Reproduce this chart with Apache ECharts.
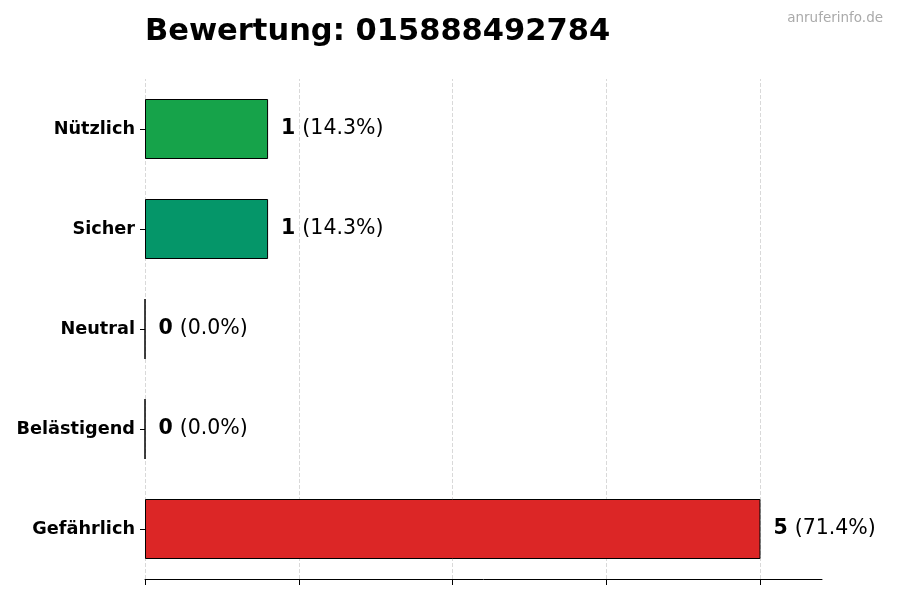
<!DOCTYPE html>
<html><head><meta charset="utf-8">
<script src="https://cdn.jsdelivr.net/npm/echarts@6/dist/echarts.min.js"></script>
<style>html,body{margin:0;padding:0;background:#fff}#c{width:900px;height:600px}</style>
</head><body><div id="c"></div>
<script>
const categories = ['Gefährlich', 'Belästigend', 'Neutral', 'Sicher', 'Nützlich'];
const values = [5, 0, 0, 1, 1];
const colors = ['#dc2626', '#6b7280', '#9ca3af', '#059669', '#16a34a'];
const xTicks = [0, 1.25, 2.5, 3.75, 5];
const titleText = 'Bewertung: 015888492784';
const watermark = 'anruferinfo.de';
const total = values.reduce((a, b) => a + b, 0);

const chart = echarts.init(document.getElementById('c'));
chart.setOption({
  animation: false,
  textStyle: { fontFamily: 'DejaVu Sans' },
  title: [
    { text: titleText, left: 140, top: 12, textStyle: { fontSize: 30.5, fontWeight: 'bold', color: '#000', fontFamily: 'DejaVu Sans' } },
    { text: watermark, right: 12, top: 6, textStyle: { fontSize: 13.5, fontWeight: 'normal', color: '#aaaaaa', fontFamily: 'DejaVu Sans' } }
  ],
  grid: { left: 145, right: 78, top: 79, bottom: 21, containLabel: false },
  xAxis: {
    type: 'value', min: 0, max: 5.5, interval: 1.25,
    axisLine: { show: true, lineStyle: { color: '#000', width: 1 } },
    axisTick: { show: true, length: 6, customValues: xTicks, lineStyle: { color: '#000' } },
    axisLabel: { show: false },
    splitLine: { show: false }
  },
  yAxis: {
    type: 'category', data: categories,
    axisLine: { show: false },
    axisTick: { show: true, length: 5, alignWithLabel: true, lineStyle: { color: '#000' } },
    axisLabel: { fontSize: 17.7, fontWeight: 'bold', color: '#000', margin: 10, fontFamily: 'DejaVu Sans' }
  },
  series: [{
    type: 'bar', barWidth: 60, z: 2,
    data: values.map((v, i) => ({ value: v, itemStyle: { color: colors[i] } })),
    itemStyle: { borderColor: '#000', borderWidth: 1 },
    label: {
      show: true, position: 'right', distance: 13,
      formatter: p => '{b|' + p.value + '}{n|(' + (p.value / total * 100).toFixed(1) + '%)}',
      rich: {
        b: { fontSize: 20.5, fontWeight: 'bold', color: '#000', fontFamily: 'DejaVu Sans', padding: [0, 7, 0, 0] },
        n: { fontSize: 20.5, color: '#000', fontFamily: 'DejaVu Sans' }
      }
    },
    markLine: {
      silent: true, symbol: 'none', z: 1,
      label: { show: false },
      lineStyle: { type: 'dashed', color: '#d9d9d9', width: 1 },
      data: xTicks.map(t => ({ xAxis: t }))
    }
  }]
});
</script></body></html>
